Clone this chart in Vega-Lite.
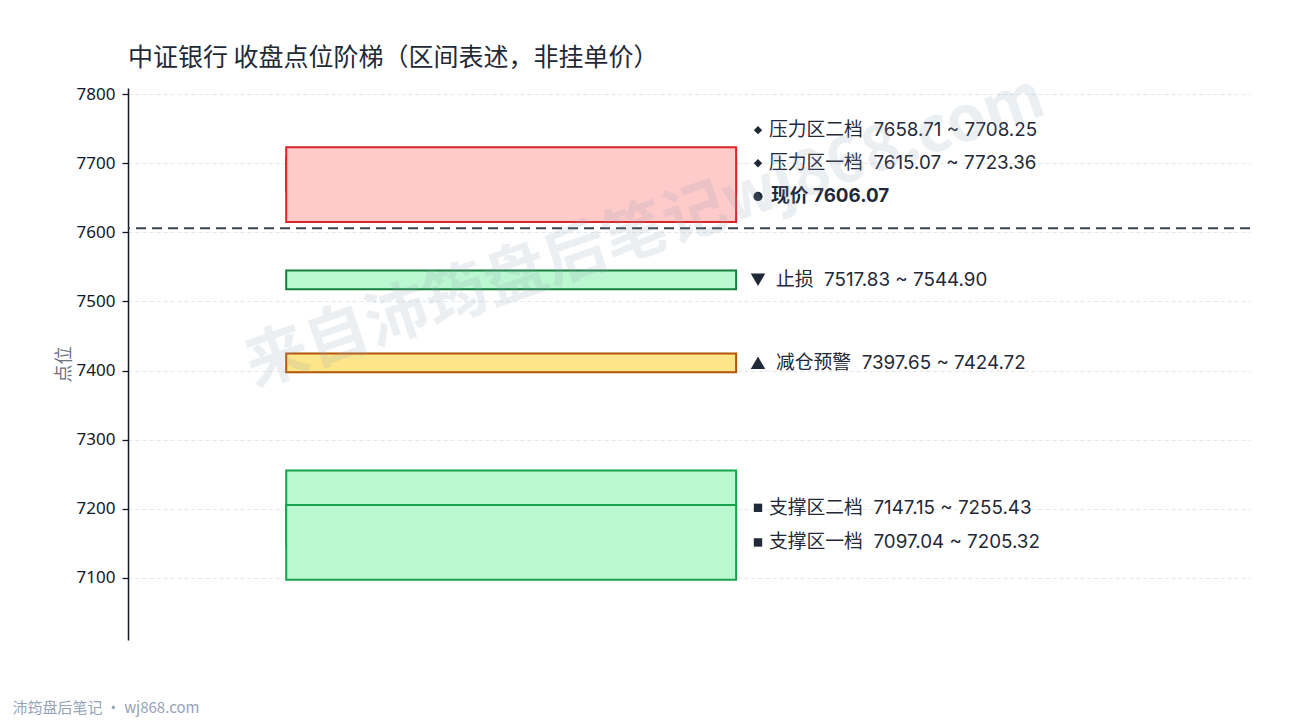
{
  "$schema": "https://vega.github.io/schema/vega-lite/v6.json",
  "autosize": {"type": "none"},
  "width": 1122,
  "height": 552,
  "padding": {"left": 128, "top": 88, "right": 40, "bottom": 80},
  "background": "white",
  "title": {
    "text": "中证银行 收盘点位阶梯（区间表述，非挂单价）",
    "anchor": "start",
    "frame": "group",
    "font": "Noto Sans CJK SC",
    "fontSize": 25,
    "fontWeight": "normal",
    "color": "#1f2937",
    "offset": -5
  },
  "config": {
    "view": {"stroke": null},
    "font": "Noto Sans CJK SC"
  },
  "datasets": {
    "zones": [
      {"name": "压力区二档", "lo": 7658.71, "hi": 7708.25, "kind": "resist", "ly": 7748, "label": "压力区二档\u00a0\u00a07658.71 ~ 7708.25"},
      {"name": "压力区一档", "lo": 7615.07, "hi": 7723.36, "kind": "resist", "ly": 7700, "label": "压力区一档\u00a0\u00a07615.07 ~ 7723.36"},
      {"name": "止损", "lo": 7517.83, "hi": 7544.90, "kind": "stop", "ly": 7531.4, "label": "止损\u00a0\u00a07517.83 ~ 7544.90"},
      {"name": "减仓预警", "lo": 7397.65, "hi": 7424.72, "kind": "warn", "ly": 7411.2, "label": "减仓预警\u00a0\u00a07397.65 ~ 7424.72"},
      {"name": "支撑区二档", "lo": 7147.15, "hi": 7255.43, "kind": "support", "ly": 7201.3, "label": "支撑区二档\u00a0\u00a07147.15 ~ 7255.43"},
      {"name": "支撑区一档", "lo": 7097.04, "hi": 7205.32, "kind": "support", "ly": 7151.2, "label": "支撑区一档\u00a0\u00a07097.04 ~ 7205.32"}
    ],
    "price": [
      {"price": 7606.07, "ly": 7652, "kind": "price", "label": "现价 7606.07"}
    ],
    "mark": [
      {"text": "来自沛筠盘后笔记wj868.com", "x": 0.461, "y": 7600}
    ]
  },
  "layer": [
    {
      "data": {"name": "zones"},
      "mark": {"type": "rect", "strokeWidth": 2},
      "encoding": {
        "x": {"datum": 0.141, "type": "quantitative", "scale": {"domain": [0, 1]},
          "axis": {"labels": false, "ticks": false, "domain": false, "grid": false,
            "title": "沛筠盘后笔记 · wj868.com", "titleAnchor": "start", "titleAlign": "left",
            "titleBaseline": "middle",
            "titleX": -116, "titleY": 67, "titleFontSize": 15, "titleFontWeight": "normal",
            "titleColor": "#94a3b8", "titleFont": "Noto Sans CJK SC"}},
        "x2": {"datum": 0.542},
        "y": {"field": "lo", "type": "quantitative",
          "scale": {"domain": [7010, 7809], "nice": false, "zero": false},
          "axis": {"values": [7100, 7200, 7300, 7400, 7500, 7600, 7700, 7800], "format": "d",
            "title": "点位", "titleFontSize": 18, "titleFontWeight": "normal", "titleColor": "#6b7280",
            "titlePadding": 3, "labelFontSize": 17, "labelFont": "Noto Sans", "labelColor": "#111827", "labelPadding": 7,
            "tickColor": "#111827", "tickSize": 6, "tickWidth": 1.3,
            "domainColor": "#111827", "domainWidth": 1.5,
            "grid": true, "gridColor": "#e5e7eb", "gridDash": [4, 3], "gridWidth": 1}},
        "y2": {"field": "hi"},
        "fill": {"field": "kind", "type": "nominal", "legend": null,
          "scale": {"domain": ["resist", "stop", "warn", "support"], "range": ["#fecaca", "#bbf7d0", "#fde68a", "#bbf7d0"]}},
        "stroke": {"field": "kind", "type": "nominal", "legend": null,
          "scale": {"domain": ["resist", "stop", "warn", "support"], "range": ["#dc2626", "#15803d", "#b45309", "#16a34a"]}}
      }
    },
    {
      "data": {"name": "price"},
      "mark": {"type": "rule", "strokeDash": [10, 6], "strokeWidth": 2, "color": "#374151"},
      "encoding": {
        "y": {"field": "price", "type": "quantitative"}
      }
    },
    {
      "data": {"name": "zones"},
      "mark": {"type": "point", "filled": true, "color": "#1f2937", "opacity": 1, "strokeWidth": 0},
      "encoding": {
        "x": {"datum": 0.5615, "type": "quantitative"},
        "y": {"field": "ly", "type": "quantitative"},
        "shape": {"field": "kind", "type": "nominal", "legend": null,
          "scale": {"domain": ["resist", "stop", "warn", "support", "price"], "range": ["diamond", "triangle-down", "triangle-up", "square", "circle"]}},
        "size": {"field": "kind", "type": "nominal", "legend": null,
          "scale": {"type": "ordinal", "domain": ["resist", "stop", "warn", "support", "price"], "range": [70, 210, 210, 70, 80]}}
      }
    },
    {
      "data": {"name": "price"},
      "mark": {"type": "point", "filled": true, "color": "#1f2937", "opacity": 1, "shape": "circle", "size": 85, "strokeWidth": 0},
      "encoding": {
        "x": {"datum": 0.5615, "type": "quantitative"},
        "y": {"field": "ly", "type": "quantitative"}
      }
    },
    {
      "data": {"name": "zones"},
      "transform": [{"filter": "datum.kind === 'resist' || datum.kind === 'support'"}],
      "mark": {"type": "text", "align": "left", "baseline": "middle", "fontSize": 18.8, "color": "#1f2937", "font": "Inter, Noto Sans CJK SC"},
      "encoding": {
        "x": {"datum": 0.5713, "type": "quantitative"},
        "y": {"field": "ly", "type": "quantitative"},
        "text": {"field": "label"}
      }
    },
    {
      "data": {"name": "zones"},
      "transform": [{"filter": "datum.kind === 'stop' || datum.kind === 'warn'"}],
      "mark": {"type": "text", "align": "left", "baseline": "middle", "fontSize": 18.8, "color": "#1f2937", "font": "Inter, Noto Sans CJK SC"},
      "encoding": {
        "x": {"datum": 0.5775, "type": "quantitative"},
        "y": {"field": "ly", "type": "quantitative"},
        "text": {"field": "label"}
      }
    },
    {
      "data": {"name": "price"},
      "mark": {"type": "text", "align": "left", "baseline": "middle", "fontSize": 18.8, "fontWeight": "bold", "color": "#1f2937", "font": "Inter, Noto Sans CJK SC"},
      "encoding": {
        "x": {"datum": 0.5731, "type": "quantitative"},
        "y": {"field": "ly", "type": "quantitative"},
        "text": {"field": "label"}
      }
    },
    {
      "data": {"name": "mark"},
      "mark": {"type": "text", "align": "center", "baseline": "middle", "fontSize": 63, "fontWeight": "bold", "angle": -19, "color": "#94a3b8", "opacity": 0.17, "font": "Noto Sans CJK SC"},
      "encoding": {
        "x": {"field": "x", "type": "quantitative"},
        "y": {"field": "y", "type": "quantitative"},
        "text": {"field": "text"}
      }
    }
  ]
}
